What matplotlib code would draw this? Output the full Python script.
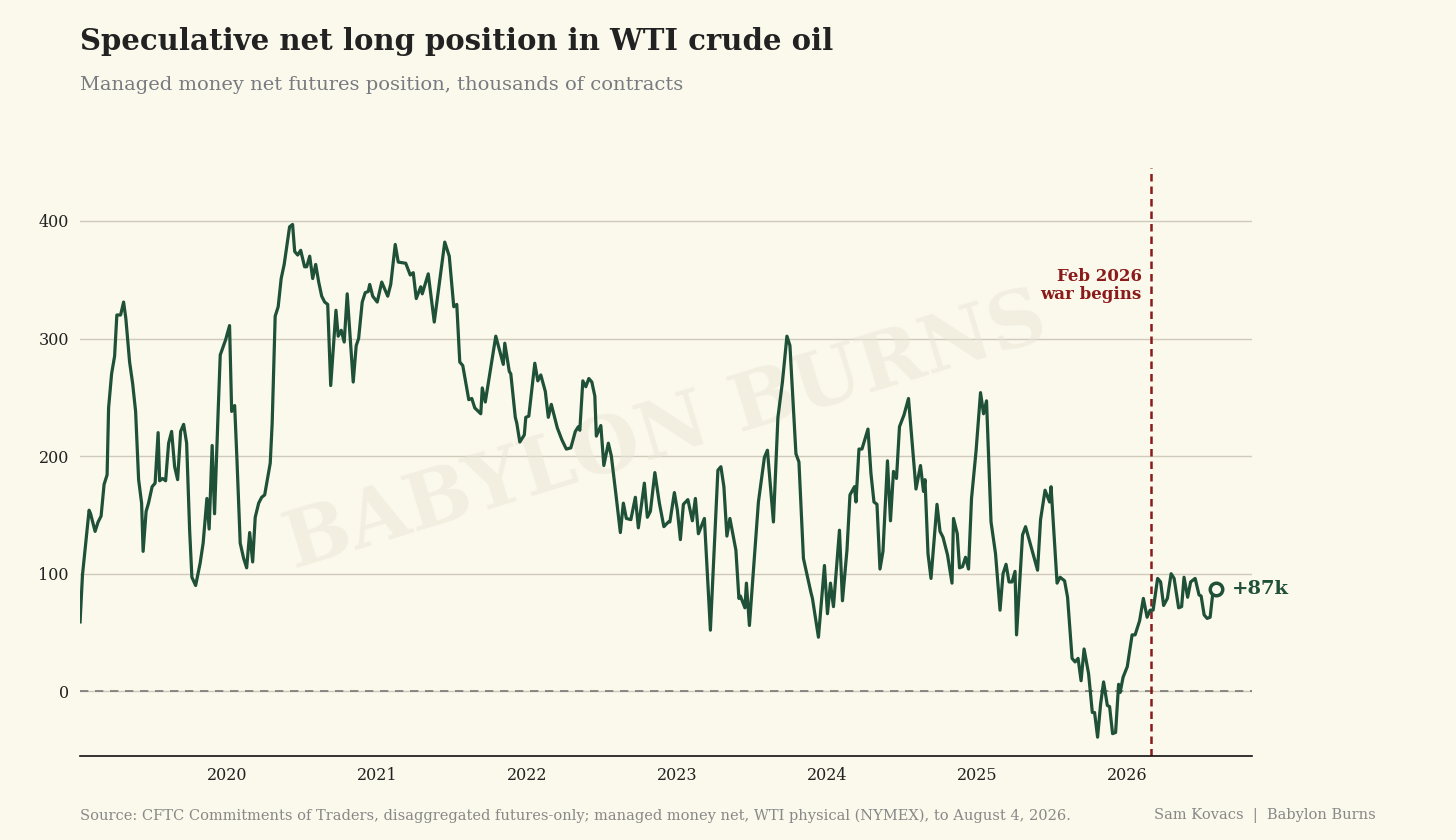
import numpy as np
import matplotlib.pyplot as plt

# decimal year, net position (thousands of contracts)
years = [
    2019.02, 2019.036, 2019.08, 2019.09, 2019.12, 2019.14, 2019.16, 2019.18, 2019.20, 2019.21,
    2019.23, 2019.25, 2019.265, 2019.29, 2019.31, 2019.325, 2019.35, 2019.37, 2019.39, 2019.41,
    2019.43, 2019.44, 2019.46, 2019.476, 2019.50, 2019.52, 2019.54, 2019.55, 2019.57, 2019.59,
    2019.61, 2019.63, 2019.65, 2019.67, 2019.69, 2019.71, 2019.73, 2019.75, 2019.765, 2019.79,
    2019.82, 2019.84, 2019.865, 2019.88, 2019.90, 2019.916, 2019.94, 2019.954, 2019.99, 2020.016,
    2020.03, 2020.05, 2020.065, 2020.087, 2020.11, 2020.13, 2020.15, 2020.17, 2020.187, 2020.21,
    2020.23, 2020.25, 2020.287, 2020.30, 2020.32, 2020.34, 2020.36, 2020.38, 2020.416, 2020.436,
    2020.45, 2020.47, 2020.49, 2020.516, 2020.53, 2020.55, 2020.57, 2020.59, 2020.61, 2020.63,
    2020.65, 2020.67, 2020.69, 2020.725, 2020.74, 2020.76, 2020.78, 2020.80, 2020.84, 2020.86,
    2020.876, 2020.90, 2020.92, 2020.94, 2020.95, 2020.97, 2021.00, 2021.03,
    2021.07, 2021.09, 2021.12, 2021.14, 2021.19, 2021.22, 2021.24, 2021.26, 2021.29, 2021.30,
    2021.34, 2021.38, 2021.45, 2021.48, 2021.51, 2021.53, 2021.55, 2021.57, 2021.61, 2021.63,
    2021.65, 2021.69, 2021.70, 2021.72, 2021.75, 2021.79, 2021.84, 2021.85, 2021.88, 2021.89,
    2021.92, 2021.93, 2021.95, 2021.98, 2021.99, 2022.01, 2022.05, 2022.07, 2022.09, 2022.12,
    2022.14, 2022.16, 2022.20, 2022.23, 2022.26, 2022.29, 2022.32, 2022.34, 2022.35, 2022.37,
    2022.39, 2022.41, 2022.43, 2022.45, 2022.46, 2022.49, 2022.51, 2022.54, 2022.56, 2022.59,
    2022.62, 2022.64, 2022.66, 2022.69, 2022.72, 2022.74, 2022.78, 2022.80, 2022.82, 2022.85,
    2022.88, 2022.91, 2022.94, 2022.95, 2022.98, 2023.00, 2023.02, 2023.04, 2023.07, 2023.10,
    2023.12, 2023.14, 2023.18, 2023.22, 2023.27, 2023.29, 2023.31, 2023.33, 2023.35, 2023.39,
    2023.41, 2023.42, 2023.45, 2023.46, 2023.48, 2023.54, 2023.58, 2023.60, 2023.64, 2023.67,
    2023.70, 2023.73, 2023.75, 2023.79, 2023.81, 2023.84, 2023.89, 2023.90, 2023.94, 2023.98,
    2024.00, 2024.02, 2024.04, 2024.08, 2024.10, 2024.13, 2024.15, 2024.18, 2024.19, 2024.21,
    2024.23, 2024.27, 2024.29, 2024.31, 2024.33, 2024.35, 2024.37, 2024.40, 2024.42, 2024.44,
    2024.46, 2024.48, 2024.51, 2024.54, 2024.59, 2024.62, 2024.64, 2024.65, 2024.67, 2024.69,
    2024.73, 2024.75, 2024.77, 2024.80, 2024.83, 2024.84, 2024.865, 2024.88, 2024.90, 2024.92,
    2024.94, 2024.96, 2024.99, 2025.02, 2025.04, 2025.06, 2025.09, 2025.12, 2025.15, 2025.17,
    2025.19, 2025.21, 2025.23, 2025.25, 2025.26, 2025.30, 2025.32, 2025.37, 2025.40, 2025.42,
    2025.45, 2025.48, 2025.49, 2025.53, 2025.55, 2025.58, 2025.60, 2025.63, 2025.65, 2025.67,
    2025.69, 2025.71, 2025.74, 2025.765, 2025.78, 2025.80, 2025.82, 2025.84, 2025.865, 2025.88,
    2025.90, 2025.92, 2025.94, 2025.95, 2025.97, 2025.998, 2026.03, 2026.05, 2026.08, 2026.105,
    2026.13, 2026.15, 2026.17, 2026.20, 2026.22, 2026.24, 2026.265, 2026.29, 2026.31, 2026.34,
    2026.36, 2026.376, 2026.40, 2026.42, 2026.45, 2026.476, 2026.49, 2026.51, 2026.53, 2026.55,
    2026.57, 2026.587,
]
net_long = [
    59, 99, 154, 151, 136, 144, 149, 176, 184, 241,
    270, 285, 320, 320, 331, 317, 280, 262, 238, 180,
    160, 119, 153, 160, 174, 177, 220, 179, 181, 179,
    211, 221, 191, 180, 221, 227, 211, 137, 97, 90,
    109, 126, 164, 138, 209, 151, 238, 286, 299, 311,
    238, 243, 198, 126, 113, 105, 135, 110, 148, 160,
    165, 167, 194, 228, 319, 327, 351, 363, 395, 397,
    374, 371, 375, 361, 361, 370, 351, 363, 348, 336,
    331, 329, 260, 324, 302, 307, 297, 338, 263, 294,
    300, 331, 339, 340, 346, 336, 331, 348,
    336, 346, 380, 365, 364, 354, 356, 334, 344, 338,
    355, 314, 382, 370, 327, 329, 280, 277, 248, 249,
    241, 236, 258, 246, 270, 302, 278, 296, 272, 270,
    233, 228, 212, 218, 233, 234, 279, 264, 269, 255,
    233, 244, 224, 214, 206, 207, 221, 225, 222, 264,
    259, 266, 263, 251, 217, 226, 192, 211, 200, 168,
    135, 160, 147, 146, 165, 139, 177, 148, 153, 186,
    160, 140, 144, 144, 169, 154, 129, 159, 163, 145,
    164, 134, 147, 52, 188, 191, 174, 132, 147, 120,
    79, 81, 71, 92, 56, 161, 199, 205, 144, 233,
    263, 302, 294, 202, 195, 113, 84, 79, 46, 107,
    66, 92, 72, 137, 77, 120, 167, 174, 161, 206,
    206, 223, 185, 161, 159, 104, 119, 196, 145, 187,
    181, 225, 235, 249, 172, 192, 170, 180, 117, 96,
    159, 136, 131, 116, 92, 147, 134, 105, 106, 114,
    104, 164, 204, 254, 236, 247, 144, 117, 69, 100,
    108, 93, 93, 102, 48, 133, 140, 117, 103, 146,
    171, 161, 174, 92, 97, 94, 80, 28, 25, 28,
    9, 36, 15, -18, -18, -39, -11, 8, -12, -13,
    -36, -35, 6, -1, 12, 21, 48, 48, 60, 79,
    63, 69, 69, 96, 93, 73, 79, 100, 96, 71,
    72, 97, 80, 93, 96, 82, 81, 65, 62, 63,
    86, 87,
]
year_ticks = [2020, 2021, 2022, 2023, 2024, 2025, 2026]
y_ticks = [0, 100, 200, 300, 400]
war_start = 2026.153

BG = '#FBF9EC'
GREEN = '#1F5038'
RED = '#8B1A1A'
plt.rcParams['font.family'] = ['DejaVu Serif']

fig = plt.figure(figsize=(14.56, 8.4), dpi=100, facecolor=BG)
ax = fig.add_axes([0.055, 0.1, 0.805, 0.70], facecolor=BG)

ax.plot(years, net_long, color=GREEN, lw=2.3, zorder=3)
ax.plot(years[-1], net_long[-1], 'o', ms=9, mfc=BG, mec=GREEN, mew=2.5, zorder=4)
ax.annotate(f'+{net_long[-1]}k', (years[-1], net_long[-1]), xytext=(12, 0),
            textcoords='offset points', va='center', fontsize=14, fontweight='bold', color=GREEN)

ax.axhline(0, color='#777777', lw=1.2, ls=(0, (5, 4)), zorder=2)
ax.axvline(war_start, color=RED, lw=1.8, ls=(0, (3, 2)), zorder=2)
ax.text(war_start - 0.06, 345, 'Feb 2026\nwar begins', ha='right', va='center',
        fontsize=12, fontweight='bold', color=RED, linespacing=1.1)

ax.set_xlim(2019.02, 2026.83)
ax.set_ylim(-55, 445)
ax.set_xticks(year_ticks)
ax.set_yticks(y_ticks)
ax.tick_params(length=0, labelsize=11.5, colors='#222222', pad=8)
ax.grid(axis='y', color='#CFCBBB', lw=1)
ax.set_axisbelow(True)
for s in ['top', 'right', 'left']:
    ax.spines[s].set_visible(False)
ax.spines['bottom'].set_color('#111111')
ax.spines['bottom'].set_linewidth(1.2)

ax.text(0.5, 0.55, 'BABYLON BURNS', transform=ax.transAxes, ha='center', va='center',
        fontsize=56, fontweight='bold', color='#E9E6D6', alpha=0.5, rotation=17, zorder=1)

fig.text(0.055, 0.95, 'Speculative net long position in WTI crude oil', fontsize=21,
         fontweight='bold', color='#222222', va='center')
fig.text(0.055, 0.899, 'Managed money net futures position, thousands of contracts',
         fontsize=14, color='#777B80', va='center')
fig.text(0.055, 0.029, 'Source: CFTC Commitments of Traders, disaggregated futures-only; '
         'managed money net, WTI physical (NYMEX), to August 4, 2026.',
         fontsize=10.5, color='#888888', va='center')
fig.text(0.945, 0.029, 'Sam Kovacs  |  Babylon Burns', fontsize=10.5, color='#888888',
         va='center', ha='right')

fig.savefig('out.png', dpi=100, facecolor=BG)
